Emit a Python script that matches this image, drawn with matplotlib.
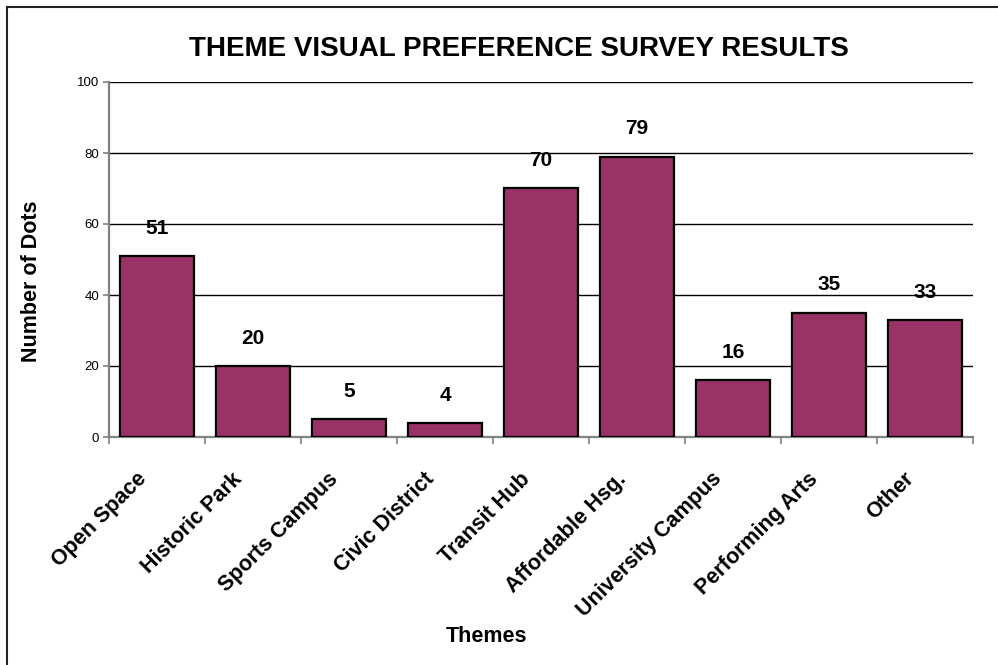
import matplotlib.pyplot as plt
from matplotlib.lines import Line2D
import numpy as np

plt.rcParams['font.family'] = ['Liberation Sans', 'DejaVu Sans']

themes = ['Open Space', 'Historic Park', 'Sports Campus', 'Civic District',
          'Transit Hub', 'Affordable Hsg.', 'University Campus',
          'Performing Arts', 'Other']
dots = [51, 20, 5, 4, 70, 79, 16, 35, 33]
yticks = [0, 20, 40, 60, 80, 100]

W, H = 998, 665
fig = plt.figure(figsize=(W / 100, H / 100), dpi=100)
ax = fig.add_axes([109 / W, 1 - 437 / H, 864 / W, 355 / H])

x = np.arange(len(themes))
ax.bar(x, dots, width=0.78, color='#993366', edgecolor='black', linewidth=1.6, zorder=3)

for xi, v in zip(x, dots):
    ax.annotate(str(v), (xi, v), xytext=(0, 20), textcoords='offset points',
                ha='center', va='center', fontsize=15, fontweight='bold', zorder=4)

ax.set_xlim(-0.5, len(themes) - 0.5)
ax.set_ylim(0, 100)
ax.set_yticks(yticks)
ax.yaxis.grid(True, color='black', linewidth=1.0, zorder=0)
ax.tick_params(axis='y', labelsize=9.5, length=4, color='#808080', width=1.2, pad=3)

# category ticks sit between the bars
ax.set_xticks(np.arange(len(themes) + 1) - 0.5)
ax.set_xticklabels([])
ax.tick_params(axis='x', length=5, color='#808080', width=1.2)
for xi, name in zip(x, themes):
    ax.annotate(name, (xi, 0), xytext=(-10, -28), textcoords='offset points',
                xycoords=('data', 'axes fraction'), rotation=45,
                rotation_mode='anchor', ha='right', va='center',
                fontsize=15.5, fontweight='bold')

for s in ['top', 'right']:
    ax.spines[s].set_visible(False)
for s in ['left', 'bottom']:
    ax.spines[s].set_color('#808080')
    ax.spines[s].set_linewidth(1.6)

fig.text(519 / W, 1 - 49 / H, 'THEME VISUAL PREFERENCE SURVEY RESULTS',
         ha='center', va='center', fontsize=20, fontweight='bold')
fig.text(32 / W, 1 - 281 / H, 'Number of Dots', rotation=90,
         ha='center', va='center', fontsize=15.5, fontweight='bold')
fig.text(486 / W, 1 - 637 / H, 'Themes', ha='center', va='center',
         fontsize=15.5, fontweight='bold')

# chart frame (left and top edges visible)
fig.add_artist(Line2D([7 / W, 7 / W], [0, 1 - 7 / H], color='#222222', linewidth=1.5))
fig.add_artist(Line2D([7 / W, 1], [1 - 7 / H, 1 - 7 / H], color='#222222', linewidth=1.5))

fig.savefig('out.png', dpi=100)
